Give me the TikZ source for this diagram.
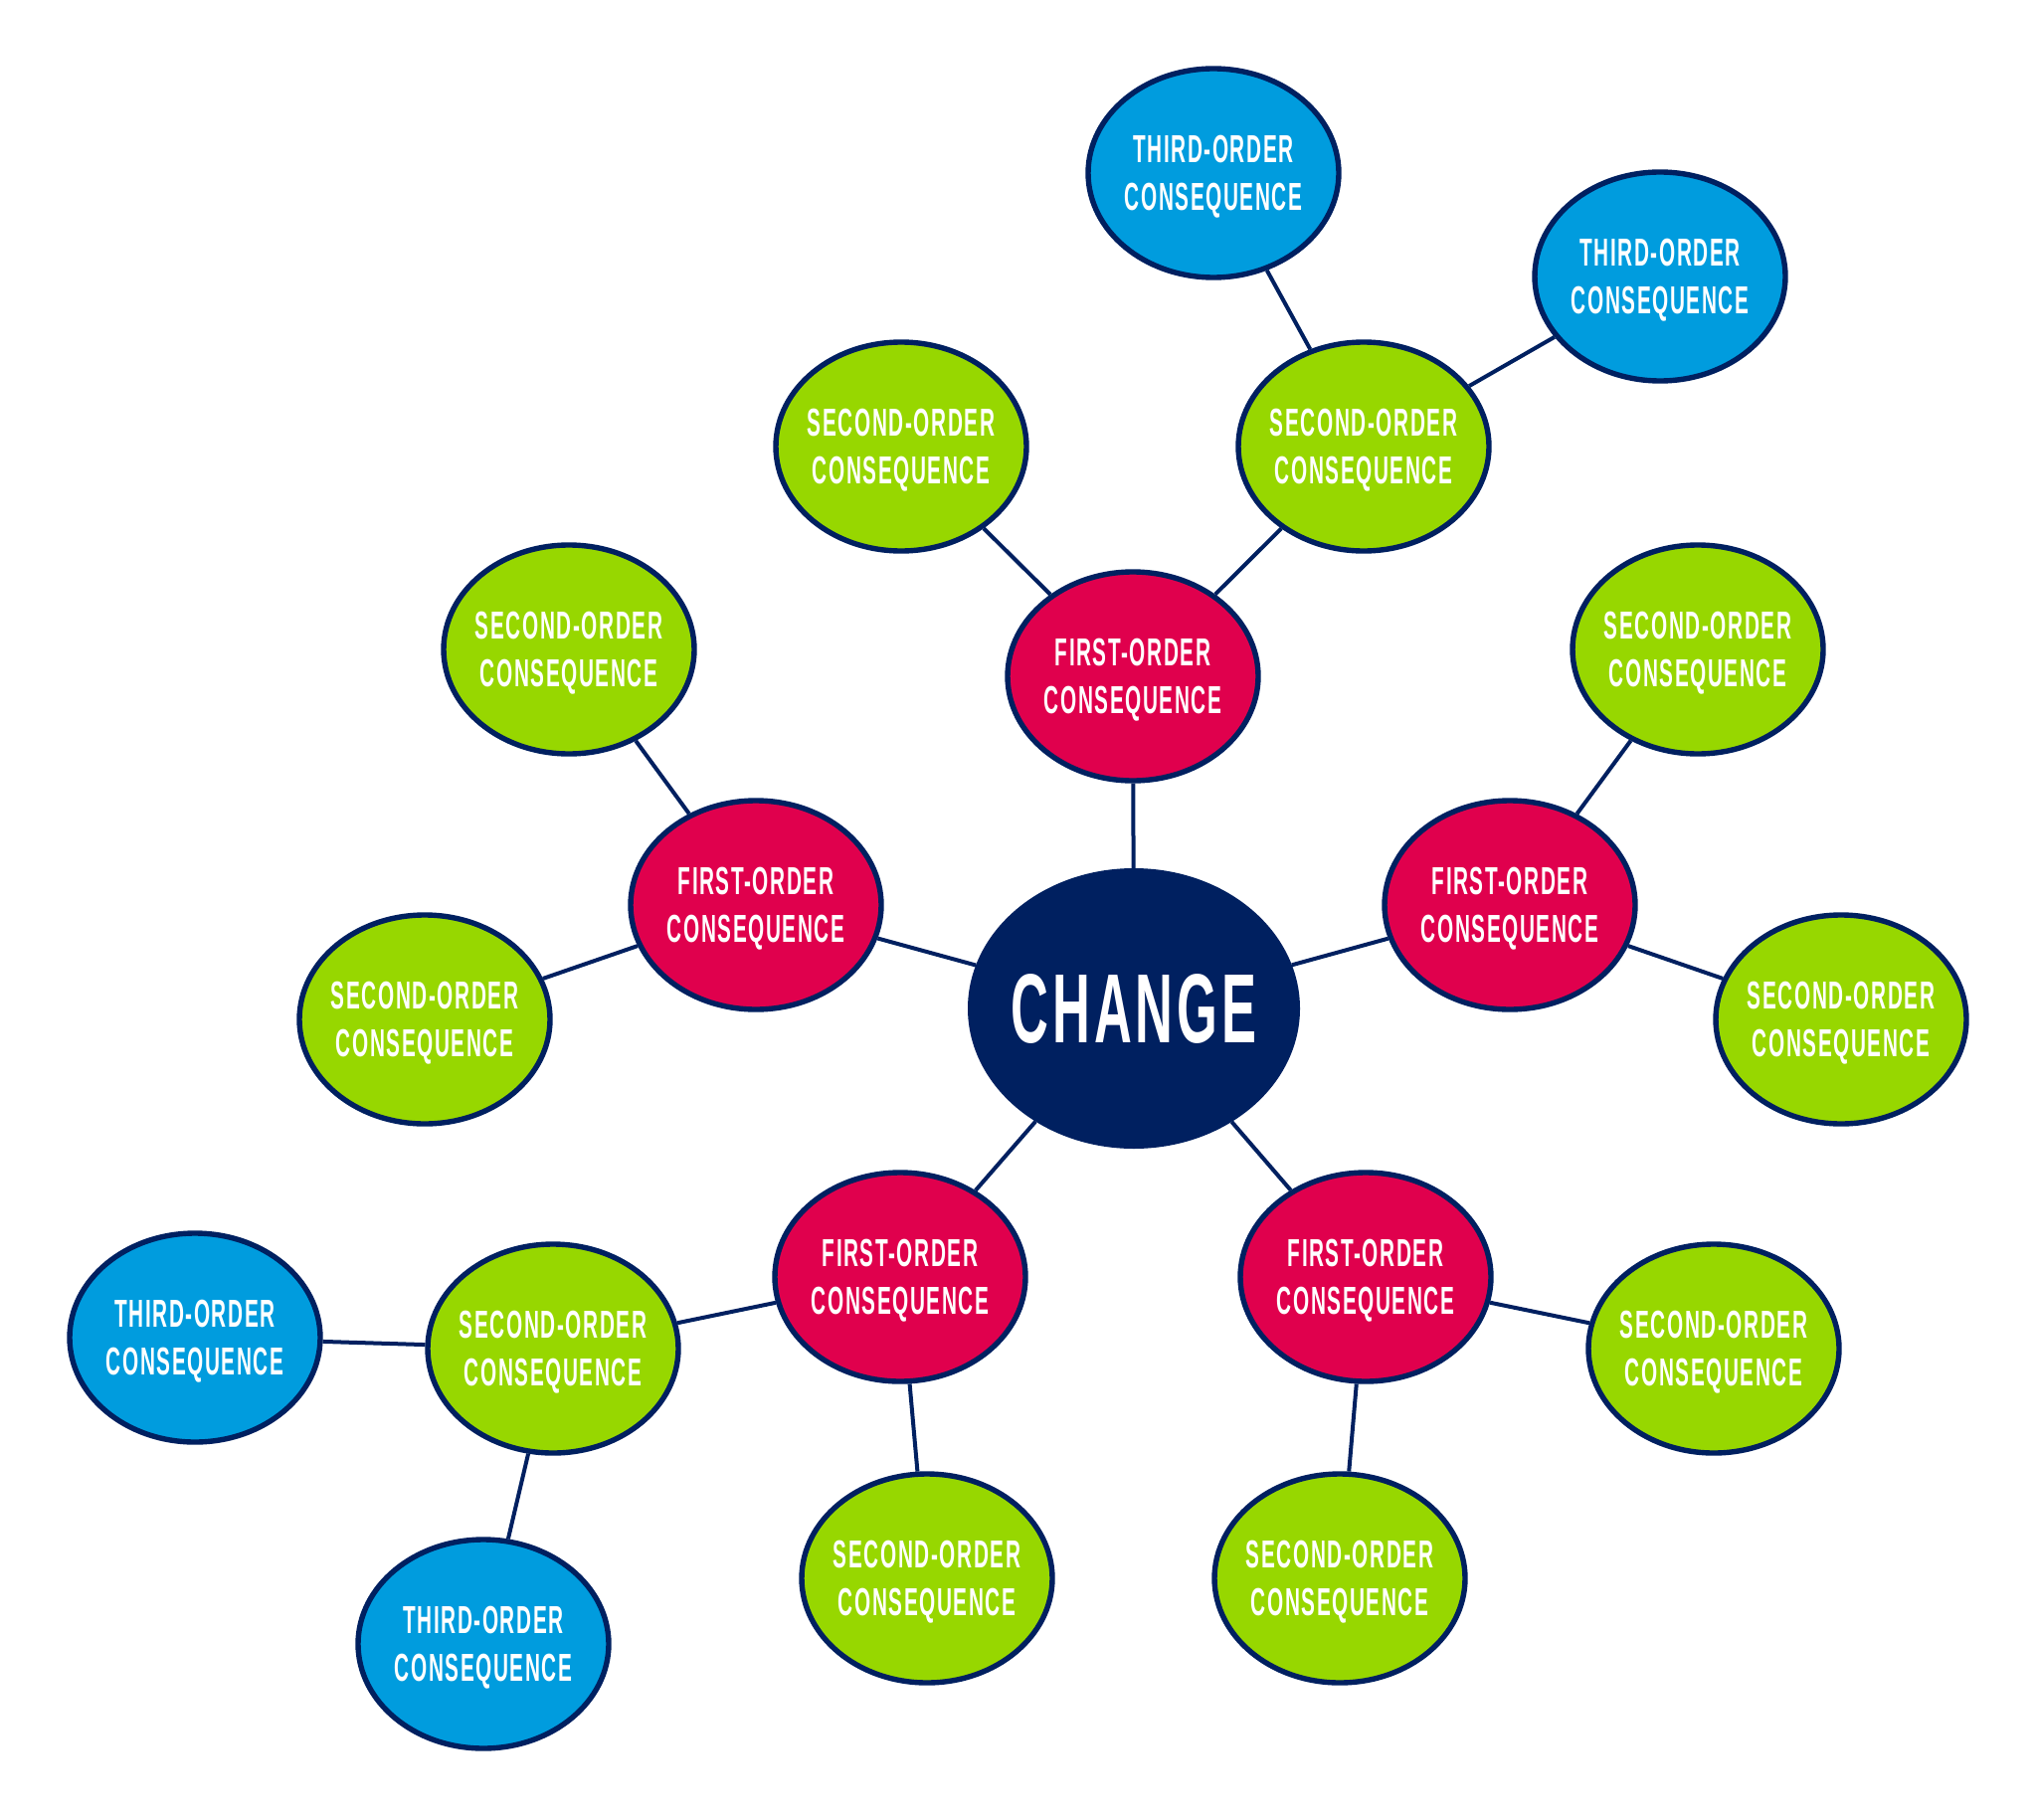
\documentclass[tikz,border=0pt]{standalone}
\usepackage{fontspec}
\newfontfamily\condfont{Liberation Sans}[FakeStretch=0.53,LetterSpace=4]
\usetikzlibrary{shapes.geometric}
\definecolor{navy}{RGB}{0,32,96}
\definecolor{redc}{RGB}{224,0,77}
\definecolor{greenc}{RGB}{151,215,0}
\definecolor{bluec}{RGB}{0,156,222}
\tikzset{
  bub/.style={ellipse, draw=navy, line width=2.7pt, minimum width=126pt, minimum height=105pt, inner sep=0pt},
  lab/.style={text=white, font=\condfont\bfseries\fontsize{19.6}{24}\selectfont, align=center, inner sep=0pt, yshift=-1.8pt},
  first/.style={bub, fill=redc, label={[lab]center:FIRST-ORDER\\CONSEQUENCE}},
  second/.style={bub, fill=greenc, label={[lab]center:SECOND-ORDER\\CONSEQUENCE}},
  third/.style={bub, fill=bluec, label={[lab]center:THIRD-ORDER\\CONSEQUENCE}},
  hublab/.style={text=white, inner sep=0pt, font=\condfont\bfseries\fontsize{49.4}{55}\selectfont},
  hub/.style={ellipse, fill=navy, draw=navy, line width=1pt, minimum width=166pt, minimum height=140pt, inner sep=0pt,
    label={[hublab]center:CHANGE}},
  link/.style={draw=navy, line width=2pt}
}
\begin{document}
\begin{tikzpicture}[x=0.5pt,y=-0.5pt]
\useasboundingbox (0,0) rectangle (2048,1829);
\node[hub] (c) at (1140,1014) {};
\node[first] (f1) at (1139,680) {};
\node[first] (f2) at (760,910) {};
\node[first] (f3) at (1518,910) {};
\node[first] (f4) at (905,1284) {};
\node[first] (f5) at (1373,1284) {};
\node[second] (s1) at (906,449) {};
\node[second] (s2) at (1371,449) {};
\node[second] (s3) at (572,653) {};
\node[second] (s4) at (427,1025) {};
\node[second] (s5) at (1707,653) {};
\node[second] (s6) at (1851,1025) {};
\node[second] (s7) at (556,1356) {};
\node[second] (s8) at (932,1587) {};
\node[second] (s9) at (1347,1587) {};
\node[second] (s10) at (1723,1356) {};
\node[third] (t1) at (1220,174) {};
\node[third] (t2) at (1669,278) {};
\node[third] (t3) at (196,1345) {};
\node[third] (t4) at (486,1653) {};
\draw[link] (c) -- (f1);
\draw[link] (c) -- (f2);
\draw[link] (c) -- (f3);
\draw[link] (c) -- (f4);
\draw[link] (c) -- (f5);
\draw[link] (f1) -- (s1);
\draw[link] (f1) -- (s2);
\draw[link] (s2) -- (t1);
\draw[link] (s2) -- (t2);
\draw[link] (f2) -- (s3);
\draw[link] (f2) -- (s4);
\draw[link] (f3) -- (s5);
\draw[link] (f3) -- (s6);
\draw[link] (f4) -- (s7);
\draw[link] (f4) -- (s8);
\draw[link] (s7) -- (t3);
\draw[link] (s7) -- (t4);
\draw[link] (f5) -- (s9);
\draw[link] (f5) -- (s10);
\end{tikzpicture}
\end{document}
